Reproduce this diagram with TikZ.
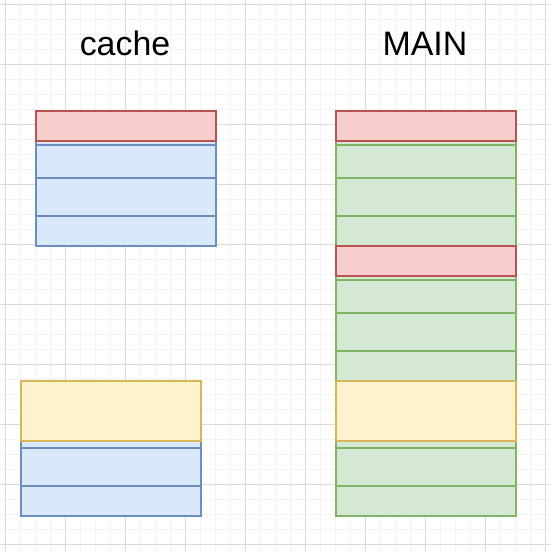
\documentclass[tikz,border=0pt]{standalone}
\usepackage{fontspec}
\setmainfont{Liberation Sans}
\usetikzlibrary{positioning}
\definecolor{redfill}{HTML}{F8CECC}
\definecolor{redline}{HTML}{B85450}
\definecolor{bluefill}{HTML}{DAE8FC}
\definecolor{blueline}{HTML}{6C8EBF}
\definecolor{greenfill}{HTML}{D5E8D4}
\definecolor{greenline}{HTML}{82B366}
\definecolor{yellowfill}{HTML}{FFF2CC}
\definecolor{yellowline}{HTML}{D6B656}
\definecolor{gridminor}{HTML}{F3F3F3}
\definecolor{gridmajor}{HTML}{DADADA}

\begin{document}
\begin{tikzpicture}[x=0.02cm, y=-0.02cm,
    box/.style={rectangle, inner sep=0pt, outer sep=0pt, anchor=north west,
                line width=0.75pt, minimum width=3.6cm},
    redhead/.style={box, draw=redline, fill=redfill, minimum height=0.6cm},
    yellowhead/.style={box, draw=yellowline, fill=yellowfill, minimum height=1.2cm},
    bluelist/.style={box, draw=blueline, fill=bluefill},
    greenlist/.style={box, draw=greenline, fill=greenfill},
    title/.style={anchor=base, font=\fontsize{19.3}{23}\selectfont}]
\useasboundingbox (0,0) rectangle (551,552);

% background grid
\foreach \k in {0,...,36} {
    \draw[gridminor, line width=0.55pt] (5+15*\k,0) -- (5+15*\k,552);
    \draw[gridminor, line width=0.55pt] (0,4+15*\k) -- (551,4+15*\k);
}
\foreach \k in {0,...,9} {
    \draw[gridmajor, line width=0.55pt] (5+60*\k,0) -- (5+60*\k,552);
    \draw[gridmajor, line width=0.55pt] (0,4+60*\k) -- (551,4+60*\k);
}

% titles
\node[title] (cachetitle) at (125,55) {cache};
\node[title] (maintitle) at (425,55) {MAIN};

% cache, upper list
\node[bluelist, minimum height=2.7cm] (cachelist) at (36,111) {};
\node[bluelist, minimum height=0.66cm] (cacherowa) at (36,145) {};
\node[bluelist, minimum height=0.76cm, below=0pt of cacherowa] (cacherowb) {};
\node[bluelist, minimum height=0.6cm, below=0pt of cacherowb] (cacherowc) {};
\node[redhead] (cachehead) at (36,111) {};

% cache, lower list
\node[bluelist, minimum height=2.7cm] (cachelistb) at (21,381) {};
\node[bluelist, minimum height=0.76cm] (cacherowd) at (21,448) {};
\node[bluelist, minimum height=0.6cm, below=0pt of cacherowd] (cacherowe) {};
\node[yellowhead] (cachepart) at (21,381) {};

% MAIN
\node[greenlist, minimum height=8.1cm] (mainlist) at (336,111) {};
\node[greenlist, minimum height=0.66cm] (mainrowa) at (336,145) {};
\node[greenlist, minimum height=0.76cm, below=0pt of mainrowa] (mainrowb) {};
\node[greenlist, minimum height=0.6cm, below=0pt of mainrowb] (mainrowc) {};
\node[redhead, below=0pt of mainrowc] (mainsub) {};
\node[greenlist, minimum height=0.66cm] (mainrowd) at (336,280) {};
\node[greenlist, minimum height=0.76cm, below=0pt of mainrowd] (mainrowe) {};
\node[greenlist, minimum height=0.6cm, below=0pt of mainrowe] (mainrowf) {};
\node[yellowhead, below=0pt of mainrowf] (mainpart) {};
\node[greenlist, minimum height=0.76cm] (mainrowg) at (336,448) {};
\node[greenlist, minimum height=0.6cm, below=0pt of mainrowg] (mainrowh) {};
\node[redhead] (mainhead) at (336,111) {};
\end{tikzpicture}
\end{document}
